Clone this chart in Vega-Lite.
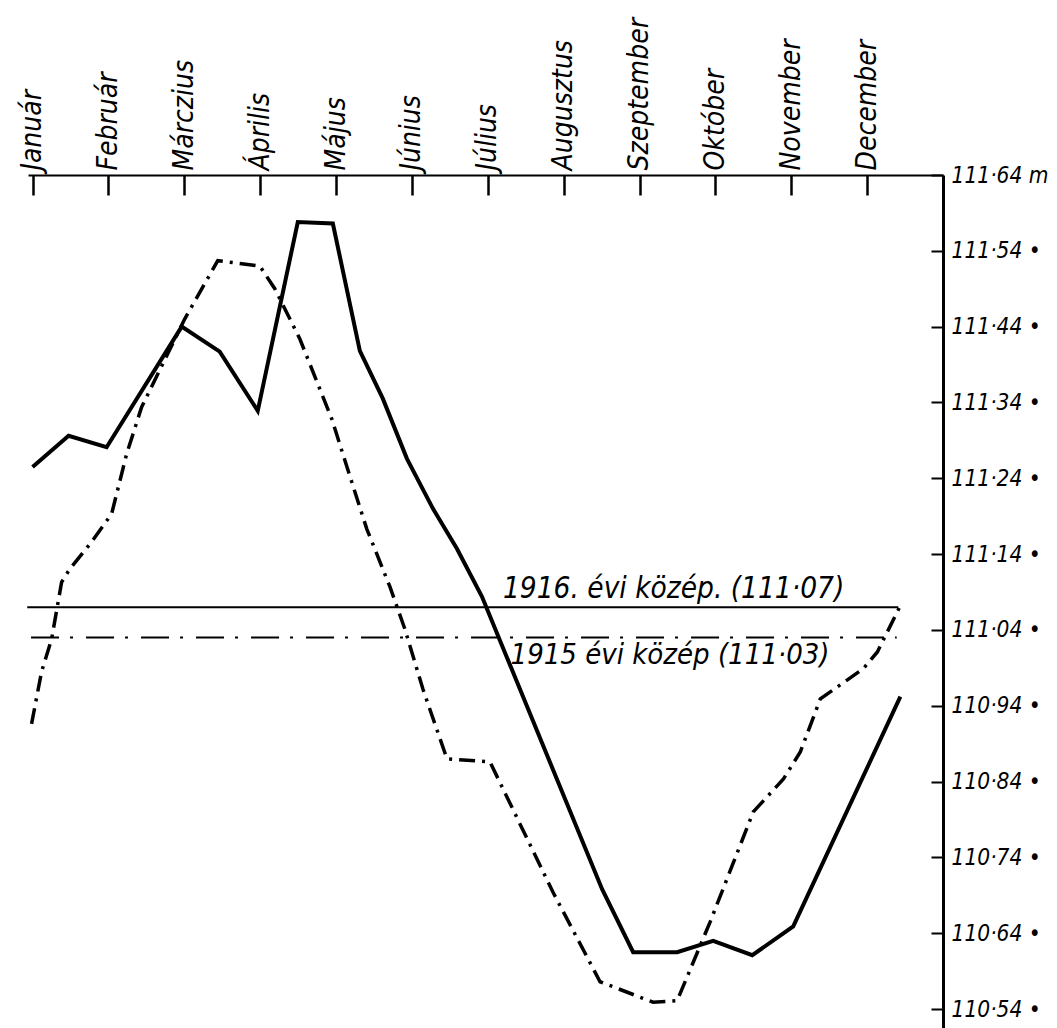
{
  "$schema": "https://vega.github.io/schema/vega-lite/v6.json",
  "width": 915,
  "height": 853,
  "autosize": {"type": "none"},
  "padding": {"left": 28, "top": 175, "right": 114, "bottom": 0},
  "background": "white",
  "config": {"view": {"stroke": null}},
  "datasets": {
    "levels": [
      {"year": "1916", "m": 0.0, "v": 111.255},
      {"year": "1916", "m": 0.475, "v": 111.296},
      {"year": "1916", "m": 0.976, "v": 111.281},
      {"year": "1916", "m": 1.966, "v": 111.44},
      {"year": "1916", "m": 2.467, "v": 111.407},
      {"year": "1916", "m": 2.968, "v": 111.329},
      {"year": "1916", "m": 3.496, "v": 111.578},
      {"year": "1916", "m": 3.958, "v": 111.576},
      {"year": "1916", "m": 4.314, "v": 111.408},
      {"year": "1916", "m": 4.617, "v": 111.345},
      {"year": "1916", "m": 4.934, "v": 111.266},
      {"year": "1916", "m": 5.277, "v": 111.2},
      {"year": "1916", "m": 5.594, "v": 111.147},
      {"year": "1916", "m": 5.923, "v": 111.084},
      {"year": "1916", "m": 7.507, "v": 110.698},
      {"year": "1916", "m": 7.916, "v": 110.615},
      {"year": "1916", "m": 8.496, "v": 110.615},
      {"year": "1916", "m": 8.971, "v": 110.63},
      {"year": "1916", "m": 9.486, "v": 110.611},
      {"year": "1916", "m": 10.026, "v": 110.649},
      {"year": "1916", "m": 11.438, "v": 110.952},
      {"year": "1915", "m": -0.013, "v": 110.916},
      {"year": "1915", "m": 0.119, "v": 110.985},
      {"year": "1915", "m": 0.251, "v": 111.028},
      {"year": "1915", "m": 0.383, "v": 111.103},
      {"year": "1915", "m": 0.488, "v": 111.12},
      {"year": "1915", "m": 0.778, "v": 111.156},
      {"year": "1915", "m": 1.042, "v": 111.193},
      {"year": "1915", "m": 1.24, "v": 111.272},
      {"year": "1915", "m": 1.438, "v": 111.334},
      {"year": "1915", "m": 2.005, "v": 111.45},
      {"year": "1915", "m": 2.441, "v": 111.527},
      {"year": "1915", "m": 2.995, "v": 111.52},
      {"year": "1915", "m": 3.193, "v": 111.49},
      {"year": "1915", "m": 3.522, "v": 111.424},
      {"year": "1915", "m": 3.945, "v": 111.318},
      {"year": "1915", "m": 4.182, "v": 111.243},
      {"year": "1915", "m": 4.406, "v": 111.173},
      {"year": "1915", "m": 4.71, "v": 111.097},
      {"year": "1915", "m": 4.908, "v": 111.041},
      {"year": "1915", "m": 5.145, "v": 110.962},
      {"year": "1915", "m": 5.462, "v": 110.87},
      {"year": "1915", "m": 6.029, "v": 110.866},
      {"year": "1915", "m": 6.86, "v": 110.694},
      {"year": "1915", "m": 7.48, "v": 110.576},
      {"year": "1915", "m": 8.179, "v": 110.549},
      {"year": "1915", "m": 8.496, "v": 110.551},
      {"year": "1915", "m": 8.931, "v": 110.655},
      {"year": "1915", "m": 9.499, "v": 110.8},
      {"year": "1915", "m": 9.894, "v": 110.843},
      {"year": "1915", "m": 10.119, "v": 110.879},
      {"year": "1915", "m": 10.383, "v": 110.949},
      {"year": "1915", "m": 10.95, "v": 110.989},
      {"year": "1915", "m": 11.135, "v": 111.011},
      {"year": "1915", "m": 11.438, "v": 111.072}
    ],
    "means": [
      {"year": "1916", "m": -0.07, "m2": 11.41, "v": 111.07, "tm": 6.2, "label": "1916. évi közép. (111·07)"},
      {"year": "1915", "m": -0.02, "m2": 11.39, "v": 111.03, "tm": 6.3, "label": "1915 évi közép (111·03)"}
    ]
  },
  "encoding": {
    "x": {
      "field": "m",
      "type": "quantitative",
      "scale": {"domain": [-0.06, 12], "nice": false, "zero": false},
      "axis": {
        "orient": "top",
        "title": null,
        "grid": false,
        "values": [0, 1, 2, 3, 4, 5, 6, 7, 8, 9, 10, 11],
        "labelExpr": "['Január','Február','Márczius','Április','Május','Június','Július','Augusztus','Szeptember','Október','November','December'][datum.value]",
        "domainColor": "black",
        "domainWidth": 2,
        "tickColor": "black",
        "tickWidth": 2.5,
        "tickSize": -20,
        "labelAngle": -90,
        "labelAlign": "left",
        "labelBaseline": "middle",
        "labelFont": "DejaVu Sans Condensed, Liberation Sans Narrow, DejaVu Sans",
        "labelFontStyle": "italic",
        "labelFontSize": 28,
        "labelColor": "black",
        "labelPadding": 25,
        "labelFlush": false,
        "labelOverlap": false
      }
    },
    "y": {
      "field": "v",
      "type": "quantitative",
      "scale": {"domain": [110.515, 111.64], "nice": false, "zero": false},
      "axis": {
        "orient": "right",
        "title": null,
        "grid": false,
        "values": [110.54, 110.64, 110.74, 110.84, 110.94, 111.04, 111.14, 111.24, 111.34, 111.44, 111.54, 111.64],
        "labelExpr": "datum.value > 111.6 ? replace(format(datum.value, '.2f'), '.', '·') + ' m' : replace(format(datum.value, '.2f'), '.', '·') + ' •'",
        "domainColor": "black",
        "domainWidth": 3,
        "tickColor": "black",
        "tickWidth": 2,
        "tickSize": -12,
        "labelFont": "DejaVu Sans Condensed, Liberation Sans Narrow, DejaVu Sans",
        "labelFontStyle": "italic",
        "labelFontSize": 22.5,
        "labelColor": "black",
        "labelPadding": 20,
        "labelFlush": false,
        "labelOverlap": false
      }
    }
  },
  "layer": [
    {
      "data": {"name": "means"},
      "transform": [{"filter": "datum.year == '1916'"}],
      "mark": {"type": "rule", "color": "black", "strokeWidth": 2},
      "encoding": {"x2": {"field": "m2"}}
    },
    {
      "data": {"name": "means"},
      "transform": [{"filter": "datum.year == '1915'"}],
      "mark": {"type": "rule", "color": "black", "strokeWidth": 2, "strokeDash": [28, 11, 3, 13]},
      "encoding": {"x2": {"field": "m2"}}
    },
    {
      "data": {"name": "levels"},
      "transform": [{"filter": "datum.year == '1915'"}],
      "mark": {"type": "line", "color": "black", "strokeWidth": 3.5, "strokeDash": [16, 7, 3, 7]},
      "encoding": {"order": {"field": "m", "type": "quantitative"}}
    },
    {
      "data": {"name": "levels"},
      "transform": [{"filter": "datum.year == '1916'"}],
      "mark": {"type": "line", "color": "black", "strokeWidth": 4},
      "encoding": {"order": {"field": "m", "type": "quantitative"}}
    },
    {
      "data": {"name": "means"},
      "transform": [{"filter": "datum.year == '1916'"}],
      "mark": {"type": "text", "align": "left", "baseline": "alphabetic", "dy": -9, "fontSize": 29.5, "fontStyle": "italic", "font": "DejaVu Sans Condensed, Liberation Sans Narrow, DejaVu Sans", "color": "black"},
      "encoding": {"x": {"field": "tm", "type": "quantitative"}, "text": {"field": "label"}}
    },
    {
      "data": {"name": "means"},
      "transform": [{"filter": "datum.year == '1915'"}],
      "mark": {"type": "text", "align": "left", "baseline": "top", "dy": 3, "fontSize": 29, "fontStyle": "italic", "font": "DejaVu Sans Condensed, Liberation Sans Narrow, DejaVu Sans", "color": "black"},
      "encoding": {"x": {"field": "tm", "type": "quantitative"}, "text": {"field": "label"}}
    }
  ]
}
